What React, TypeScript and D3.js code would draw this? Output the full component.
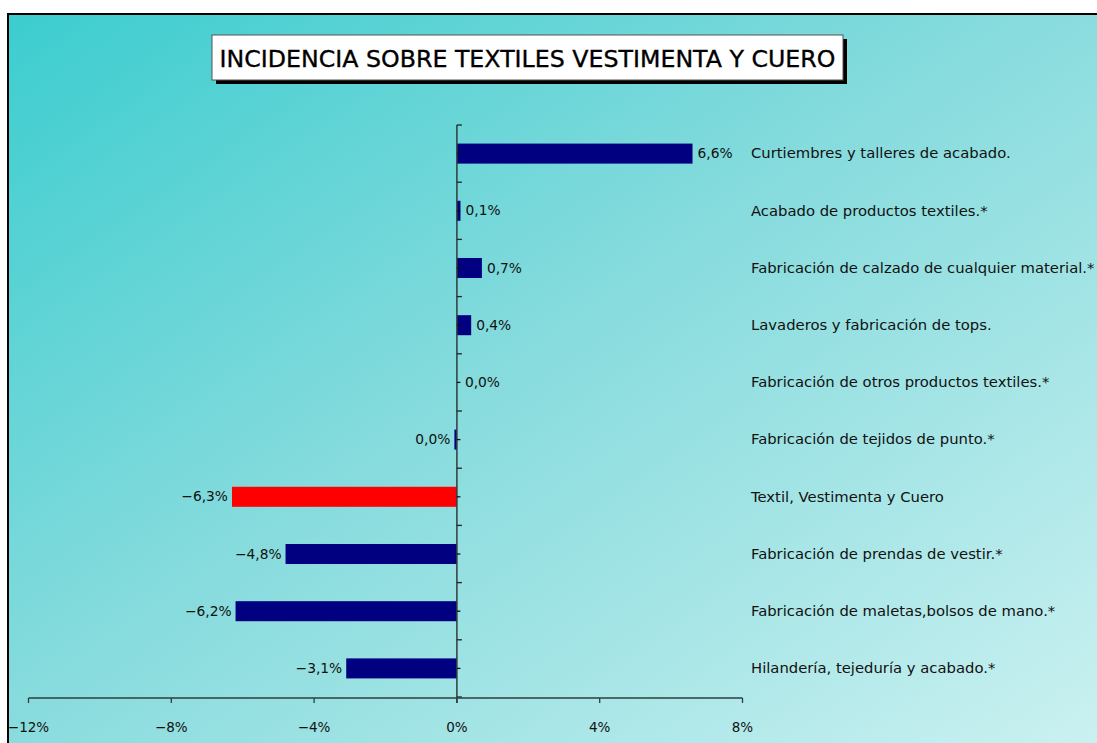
import * as d3 from "d3";

const categories = [
	"Curtiembres y talleres de acabado.",
	"Acabado de productos textiles.*",
	"Fabricación de calzado de cualquier material.*",
	"Lavaderos y fabricación de tops.",
	"Fabricación de otros productos textiles.*",
	"Fabricación de tejidos de punto.*",
	"Textil, Vestimenta y Cuero",
	"Fabricación de prendas de vestir.*",
	"Fabricación de maletas,bolsos de mano.*",
	"Hilandería, tejeduría y acabado.*",
];

const values = [6.6, 0.1, 0.7, 0.4, 0.0, -0.07, -6.3, -4.8, -6.2, -3.1];

const valueLabels = ["6,6%", "0,1%", "0,7%", "0,4%", "0,0%", "0,0%", "−6,3%", "−4,8%", "−6,2%", "−3,1%"];

const highlight = "Textil, Vestimenta y Cuero";

const xTicks = [-12, -8, -4, 0, 4, 8];

const title = "INCIDENCIA SOBRE TEXTILES VESTIMENTA Y CUERO";

export default function App() {
	const width = 1097;
	const height = 743;
	const font = "'DejaVu Sans', sans-serif";

	const x = d3.scaleLinear().domain([-12, 8]).range([28.5, 742.5]);
	const y = d3
		.scaleBand<string>()
		.domain(categories)
		.range([125, 697])
		.paddingInner(0.65)
		.paddingOuter(0.325);
	const step = y.step();
	const axisY = 698;
	const x0 = x(0);
	const fmtTick = (d: number) => (d < 0 ? "−" + Math.abs(d) : String(d)) + "%";

	return (
		<svg
			width={width}
			height={height}
			style={{ position: "absolute", left: 0, top: 0, display: "block" }}
			fontFamily={font}
		>
			<defs>
				<linearGradient id="bg" x1="0" y1="0" x2="1" y2="1">
					<stop offset="0%" stopColor="#3ccdcf" />
					<stop offset="45%" stopColor="#86dbdd" />
					<stop offset="100%" stopColor="#cff2f2" />
				</linearGradient>
			</defs>
			<rect x={0} y={0} width={width} height={height} fill="#ffffff" />
			<rect x={8} y={14} width={width + 20} height={height + 20} fill="url(#bg)" stroke="#000" strokeWidth={2} />

			{/* title box */}
			<rect x={216} y={39} width={631} height={45} fill="#000" />
			<rect x={212} y={35} width={631} height={45} fill="#fff" stroke="#555" strokeWidth={1} />
			<text x={527.5} y={66.5} textAnchor="middle" fontSize={23.7} fill="#000" stroke="#000" strokeWidth={0.35}>
				{title}
			</text>

			{/* bars */}
			{categories.map((c, i) => {
				const v = values[i];
				const bw = Math.max(Math.abs(x(v) - x0), v === 0 ? 0 : 2.5);
				return (
					<rect
						key={c}
						x={v < 0 ? x0 - bw : x0}
						y={y(c)!}
						width={bw}
						height={y.bandwidth()}
						fill={c === highlight ? "#ff0000" : "#000080"}
					/>
				);
			})}

			{/* y axis */}
			<line x1={x0} x2={x0} y1={125} y2={703} stroke="#2f3d3d" strokeWidth={1.5} />
			{d3.range(categories.length + 1).map((k) => (
				<line key={"b" + k} x1={x0} x2={x0 + 5} y1={125 + k * step} y2={125 + k * step} stroke="#222" strokeWidth={1.3} />
			))}
			{categories.map((c) => {
				const cy = y(c)! + y.bandwidth() / 2;
				return <line key={"m" + c} x1={x0} x2={x0 + 3.5} y1={cy} y2={cy} stroke="#111" strokeWidth={1.3} />;
			})}

			{/* x axis */}
			<line x1={x(-12)} x2={x(8)} y1={axisY} y2={axisY} stroke="#2f3d3d" strokeWidth={1.5} />
			{xTicks.map((t) => (
				<g key={t}>
					<line x1={x(t)} x2={x(t)} y1={axisY} y2={axisY + 5} stroke="#2f3d3d" strokeWidth={1.3} />
					<text x={x(t)} y={732} textAnchor="middle" fontSize={13.5} fill="#111">
						{fmtTick(t)}
					</text>
				</g>
			))}

			{/* value labels */}
			{categories.map((c, i) => {
				const v = values[i];
				const cy = y(c)! + y.bandwidth() / 2;
				const neg = v < 0;
				const end = neg ? Math.min(x(v), x0 - 2.5) - 4 : Math.max(x(v), x0 + 3) + 5;
				return (
					<text
						key={"v" + c}
						x={end}
						y={cy}
						dy="0.34em"
						textAnchor={neg ? "end" : "start"}
						fontSize={13.8}
						fill="#111"
					>
						{valueLabels[i]}
					</text>
				);
			})}

			{/* category labels */}
			{categories.map((c) => (
				<text
					key={"c" + c}
					x={751}
					y={y(c)! + y.bandwidth() / 2}
					dy="0.32em"
					fontSize={14.8}
					fill="#111"
				>
					{c}
				</text>
			))}
		</svg>
	);
}
